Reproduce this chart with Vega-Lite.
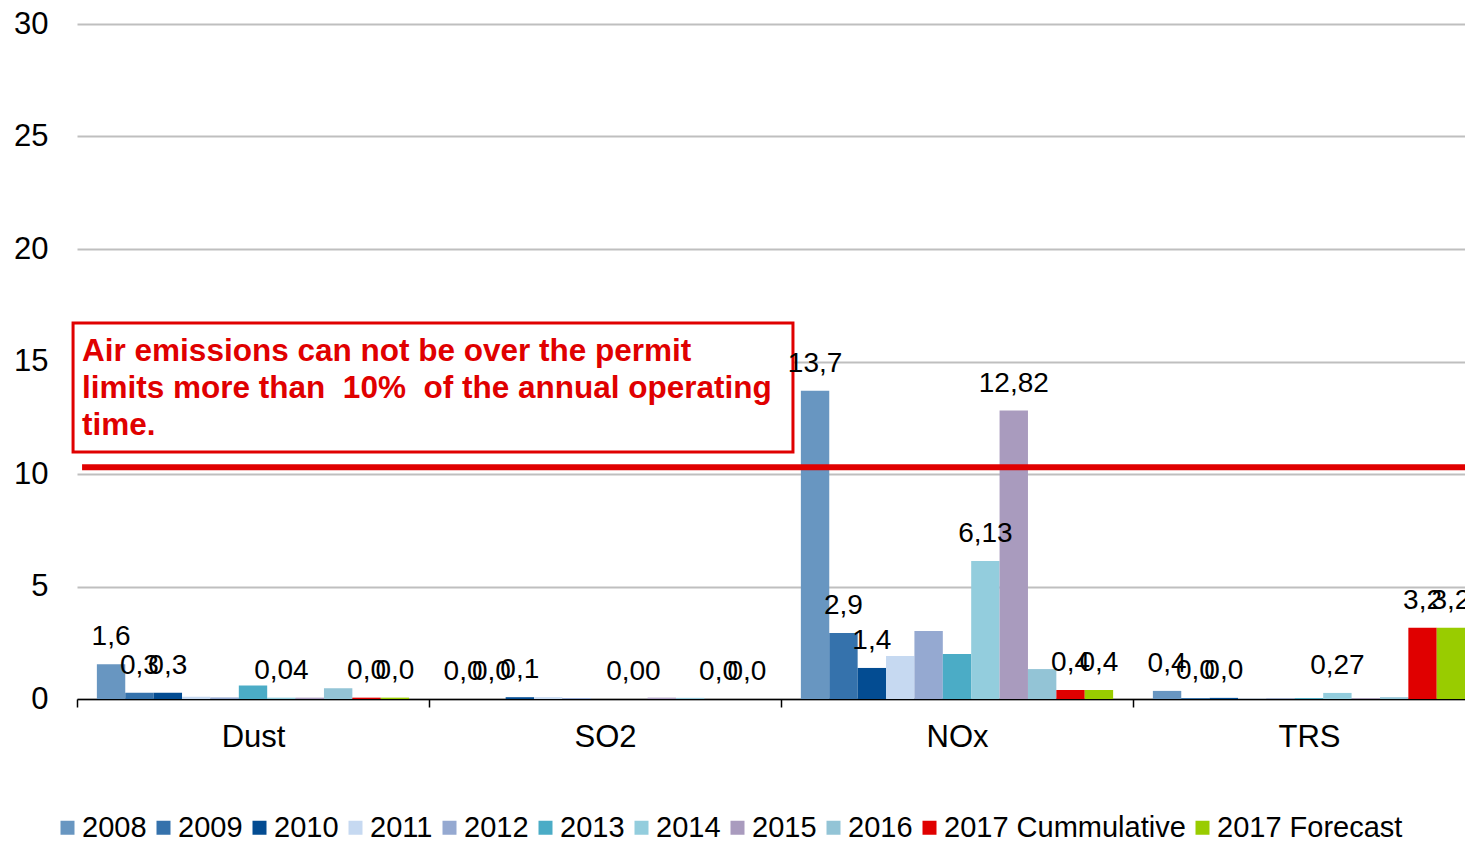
{
  "$schema": "https://vega.github.io/schema/vega-lite/v6.json",
  "autosize": "none",
  "width": 1408,
  "height": 675,
  "padding": {"left": 77, "top": 24, "right": -20, "bottom": 142},
  "background": "white",
  "config": {
    "view": {"stroke": null},
    "font": "Liberation Sans",
    "axis": {"labelFont": "Liberation Sans", "labelColor": "#000000"},
    "legend": {"labelFont": "Liberation Sans"}
  },
  "datasets": {
    "bars": [
      {"pollutant": "Dust", "series": "2008", "value": 1.55, "label": "1,6"},
      {"pollutant": "Dust", "series": "2009", "value": 0.28, "label": "0,3"},
      {"pollutant": "Dust", "series": "2010", "value": 0.28, "label": "0,3"},
      {"pollutant": "Dust", "series": "2011", "value": 0.1, "label": ""},
      {"pollutant": "Dust", "series": "2012", "value": 0.07, "label": ""},
      {"pollutant": "Dust", "series": "2013", "value": 0.6, "label": ""},
      {"pollutant": "Dust", "series": "2014", "value": 0.06, "label": "0,04"},
      {"pollutant": "Dust", "series": "2015", "value": 0.06, "label": ""},
      {"pollutant": "Dust", "series": "2016", "value": 0.48, "label": ""},
      {"pollutant": "Dust", "series": "2017 Cummulative", "value": 0.06, "label": "0,0"},
      {"pollutant": "Dust", "series": "2017 Forecast", "value": 0.06, "label": "0,0"},
      {"pollutant": "SO2", "series": "2008", "value": 0.0, "label": "0,0"},
      {"pollutant": "SO2", "series": "2009", "value": 0.0, "label": "0,0"},
      {"pollutant": "SO2", "series": "2010", "value": 0.08, "label": "0,1"},
      {"pollutant": "SO2", "series": "2011", "value": 0.08, "label": ""},
      {"pollutant": "SO2", "series": "2012", "value": 0.05, "label": ""},
      {"pollutant": "SO2", "series": "2013", "value": 0.0, "label": ""},
      {"pollutant": "SO2", "series": "2014", "value": 0.0, "label": "0,00"},
      {"pollutant": "SO2", "series": "2015", "value": 0.06, "label": ""},
      {"pollutant": "SO2", "series": "2016", "value": 0.05, "label": ""},
      {"pollutant": "SO2", "series": "2017 Cummulative", "value": 0.0, "label": "0,0"},
      {"pollutant": "SO2", "series": "2017 Forecast", "value": 0.0, "label": "0,0"},
      {"pollutant": "NOx", "series": "2008", "value": 13.7, "label": "13,7"},
      {"pollutant": "NOx", "series": "2009", "value": 2.93, "label": "2,9"},
      {"pollutant": "NOx", "series": "2010", "value": 1.38, "label": "1,4"},
      {"pollutant": "NOx", "series": "2011", "value": 1.91, "label": ""},
      {"pollutant": "NOx", "series": "2012", "value": 3.02, "label": ""},
      {"pollutant": "NOx", "series": "2013", "value": 2.0, "label": ""},
      {"pollutant": "NOx", "series": "2014", "value": 6.13, "label": "6,13"},
      {"pollutant": "NOx", "series": "2015", "value": 12.82, "label": "12,82"},
      {"pollutant": "NOx", "series": "2016", "value": 1.33, "label": ""},
      {"pollutant": "NOx", "series": "2017 Cummulative", "value": 0.4, "label": "0,4"},
      {"pollutant": "NOx", "series": "2017 Forecast", "value": 0.4, "label": "0,4"},
      {"pollutant": "TRS", "series": "2008", "value": 0.36, "label": "0,4"},
      {"pollutant": "TRS", "series": "2009", "value": 0.04, "label": "0,0"},
      {"pollutant": "TRS", "series": "2010", "value": 0.05, "label": "0,0"},
      {"pollutant": "TRS", "series": "2011", "value": 0.02, "label": ""},
      {"pollutant": "TRS", "series": "2012", "value": 0.03, "label": ""},
      {"pollutant": "TRS", "series": "2013", "value": 0.04, "label": ""},
      {"pollutant": "TRS", "series": "2014", "value": 0.27, "label": "0,27"},
      {"pollutant": "TRS", "series": "2015", "value": 0.03, "label": ""},
      {"pollutant": "TRS", "series": "2016", "value": 0.08, "label": ""},
      {"pollutant": "TRS", "series": "2017 Cummulative", "value": 3.17, "label": "3,2"},
      {"pollutant": "TRS", "series": "2017 Forecast", "value": 3.17, "label": "3,2"}
    ],
    "box": [
      {"ax": -0.0028, "ax2": 0.5085, "y": 10.98, "y2": 16.71,
       "note": "Air emissions can not be over the permit\nlimits more than\u00a0 10%\u00a0 of the annual operating\ntime.", "tx": 0.0036, "ty": 15.02}
    ],
    "limit": [{"ax": 0.0036, "ax2": 1.0, "limit": 10.3}]
  },
  "resolve": {"scale": {"x": "independent"}, "axis": {"x": "independent"}},
  "layer": [
    {
      "data": {"name": "bars"},
      "encoding": {
        "x": {
          "field": "pollutant", "type": "nominal",
          "sort": ["Dust", "SO2", "NOx", "TRS"],
          "scale": {"paddingInner": 0, "paddingOuter": 0},
          "axis": {
            "title": null, "labelAngle": 0, "labelFontSize": 31,
            "domainColor": "#000000", "domainWidth": 1.5,
            "tickBand": "extent", "tickColor": "#000000", "tickSize": 8, "tickWidth": 1.5,
            "labelPadding": 15, "grid": false
          }
        },
        "xOffset": {
          "field": "series", "type": "nominal",
          "sort": ["2008", "2009", "2010", "2011", "2012", "2013", "2014", "2015", "2016", "2017 Cummulative", "2017 Forecast"],
          "scale": {"paddingInner": 0, "paddingOuter": 0.7}
        },
        "y": {
          "field": "value", "type": "quantitative", "title": null,
          "scale": {"domain": [0, 30], "nice": false},
          "axis": {
            "title": null, "values": [0, 5, 10, 15, 20, 25, 30],
            "labelFontSize": 31, "labelPadding": 29, "ticks": false, "tickSize": 0,
            "domain": false, "grid": true, "gridColor": "#BFBFBF", "gridWidth": 2
          }
        }
      },
      "layer": [
        {
          "mark": {"type": "bar"},
          "encoding": {
            "color": {
              "field": "series", "type": "nominal",
              "sort": ["2008", "2009", "2010", "2011", "2012", "2013", "2014", "2015", "2016", "2017 Cummulative", "2017 Forecast"],
              "scale": {
                "domain": ["2008", "2009", "2010", "2011", "2012", "2013", "2014", "2015", "2016", "2017 Cummulative", "2017 Forecast"],
                "range": ["#6896C1", "#3572AC", "#034C92", "#C6D9F1", "#95A9D1", "#4BACC6", "#93CDDD", "#A99BBE", "#93C4D6", "#E00000", "#99CC00"]
              },
              "legend": {
                "title": null, "orient": "none", "direction": "horizontal", "columns": 11,
                "legendX": -24, "legendY": 789,
                "symbolType": "square", "symbolSize": 196, "symbolStrokeWidth": 0,
                "labelFontSize": 29, "labelColor": "#000000", "labelOffset": 0,
                "columnPadding": 2, "labelLimit": 400
              }
            }
          }
        }
      ]
    },
    {
      "data": {"name": "box"},
      "mark": {"type": "rect", "fill": "white", "stroke": "#E00000", "strokeWidth": 3, "clip": false},
      "encoding": {
        "x": {"field": "ax", "type": "quantitative", "scale": {"domain": [0, 1], "nice": false, "zero": false}, "axis": null},
        "x2": {"field": "ax2"},
        "y": {"field": "y", "type": "quantitative", "title": null},
        "y2": {"field": "y2"}
      }
    },
    {
      "data": {"name": "box"},
      "mark": {"type": "text", "align": "left", "baseline": "alphabetic", "fontSize": 31.5, "fontWeight": "bold", "color": "#E00000", "lineBreak": "\n", "lineHeight": 37},
      "encoding": {
        "x": {"field": "tx", "type": "quantitative", "scale": {"domain": [0, 1], "nice": false, "zero": false}, "axis": null},
        "y": {"field": "ty", "type": "quantitative", "title": null},
        "text": {"field": "note"}
      }
    },
    {
      "data": {"name": "limit"},
      "mark": {"type": "rule", "color": "#E00000", "strokeWidth": 6},
      "encoding": {
        "x": {"field": "ax", "type": "quantitative", "scale": {"domain": [0, 1], "nice": false, "zero": false}, "axis": null},
        "x2": {"field": "ax2"},
        "y": {"field": "limit", "type": "quantitative", "title": null}
      }
    },
    {
      "data": {"name": "bars"},
      "transform": [{"filter": "datum.label != ''"}],
      "mark": {"type": "text", "align": "center", "baseline": "alphabetic", "dy": -19, "fontSize": 28, "color": "#000000"},
      "encoding": {
        "x": {
          "field": "pollutant", "type": "nominal",
          "sort": ["Dust", "SO2", "NOx", "TRS"],
          "scale": {"paddingInner": 0, "paddingOuter": 0},
          "axis": null
        },
        "xOffset": {
          "field": "series", "type": "nominal",
          "sort": ["2008", "2009", "2010", "2011", "2012", "2013", "2014", "2015", "2016", "2017 Cummulative", "2017 Forecast"],
          "scale": {"domain": ["2008", "2009", "2010", "2011", "2012", "2013", "2014", "2015", "2016", "2017 Cummulative", "2017 Forecast"], "paddingInner": 0, "paddingOuter": 0.7}
        },
        "y": {"field": "value", "type": "quantitative", "title": null},
        "text": {"field": "label"}
      }
    }
  ]
}
